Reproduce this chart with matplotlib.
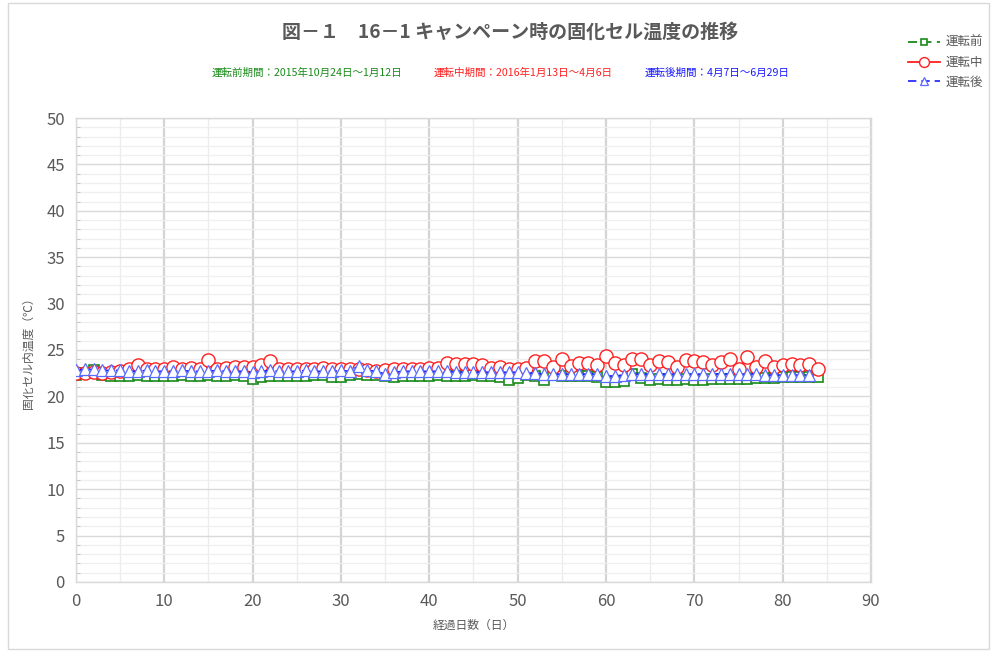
import numpy as np
import matplotlib
matplotlib.use("Agg")
import matplotlib.pyplot as plt
from matplotlib.ticker import MultipleLocator
from matplotlib.patches import Rectangle

plt.rcParams['font.family'] = ['Noto Sans CJK JP', 'DejaVu Sans']

# 固化セル温度（℃）、経過日数ごと
before_temp = [22.3, 22.5, 22.8, 22.3, 22.2, 22.2, 22.2, 22.3, 22.2, 22.2,
               22.2, 22.2, 22.3, 22.2, 22.2, 22.3, 22.2, 22.2, 22.3, 22.2,
               21.9, 22.1, 22.2, 22.2, 22.2, 22.2, 22.2, 22.3, 22.3, 22.1,
               22.1, 22.3, 22.4, 22.3, 22.3, 22.2, 22.1, 22.2, 22.2, 22.2,
               22.2, 22.3, 22.2, 22.2, 22.2, 22.3, 22.2, 22.2, 22.1, 21.8,
               22.0, 22.3, 22.2, 21.8, 22.3, 22.2, 22.2, 22.2, 22.2, 22.1,
               21.5, 21.5, 21.7, 22.4, 22.0, 21.8, 21.9, 21.8, 21.8, 21.9,
               21.8, 21.8, 21.9, 21.9, 21.9, 21.9, 21.9, 22.0, 22.0, 22.0,
               22.1, 22.1, 22.1, 22.1, 22.1]
during_temp = [22.5, 22.5, 22.6, 22.5, 22.6, 22.7, 22.9, 23.4, 23.0, 23.0,
               22.9, 23.2, 22.9, 23.1, 23.0, 23.9, 23.0, 23.1, 23.2, 23.2,
               23.2, 23.4, 23.85, 22.9, 23.0, 22.9, 23.0, 22.9, 23.1, 22.9,
               23.0, 22.9, 23.0, 22.8, 22.7, 22.8, 22.9, 22.9, 23.0, 23.0,
               23.1, 23.1, 23.6, 23.5, 23.5, 23.5, 23.4, 23.1, 23.2, 23.0,
               23.0, 23.1, 23.8, 23.8, 23.2, 24.0, 23.3, 23.6, 23.6, 23.4,
               24.3, 23.6, 23.4, 24.0, 24.0, 23.4, 23.8, 23.7, 23.2, 23.9,
               23.8, 23.7, 23.4, 23.7, 24.0, 22.9, 24.2, 23.2, 23.8, 23.2,
               23.4, 23.5, 23.4, 23.5, 22.9]
after_temp = [22.8, 22.9, 22.9, 22.8, 22.8, 22.8, 22.7, 22.7, 22.8, 22.7,
              22.7, 22.7, 22.8, 22.7, 22.7, 22.7, 22.8, 22.7, 22.7, 22.7,
              22.6, 22.7, 22.8, 22.7, 22.7, 22.7, 22.8, 22.7, 22.7, 22.7,
              22.8, 22.7, 23.3, 22.8, 22.7, 22.4, 22.6, 22.7, 22.7, 22.7,
              22.7, 22.7, 22.7, 22.6, 22.6, 22.6, 22.6, 22.6, 22.6, 22.6,
              22.6, 22.5, 22.5, 22.4, 22.4, 22.4, 22.4, 22.4, 22.4, 22.4,
              22.2, 22.2, 22.3, 22.4, 22.4, 22.4, 22.4, 22.4, 22.4, 22.4,
              22.4, 22.4, 22.4, 22.4, 22.4, 22.4, 22.4, 22.4, 22.3, 22.3,
              22.3, 22.3, 22.3, 22.3]

before_days = np.arange(len(before_temp))
during_days = np.arange(len(during_temp))
after_days = np.arange(len(after_temp))

periods = ['運転前期間：2015年10月24日～1月12日',
           '運転中期間：2016年1月13日～4月6日',
           '運転後期間：4月7日～6月29日']
series_names = ['運転前', '運転中', '運転後']
gray = '#595959'

fig = plt.figure(figsize=(9.96, 6.52), dpi=100)
ax = fig.add_axes([0.0763, 0.1074, 0.7982, 0.7116])

ax.plot(before_days, before_temp, color='#1a8a1a', ls=(0, (5, 3)), lw=1.3,
        marker='s', ms=6.5, mfc='white', mec='#1a8a1a', mew=1.2,
        label=series_names[0], zorder=3)
ax.plot(during_days, during_temp, color='#ff2020', ls='-', lw=1.3,
        marker='o', ms=9.5, mfc='white', mec='#ff2020', mew=1.0,
        label=series_names[1], zorder=4)
ax.plot(after_days, after_temp, color='#1a1aff', ls=(0, (5, 3)), lw=1.2,
        marker='^', ms=8, mfc='white', mec='#5a6cff', mew=0.9,
        label=series_names[2], zorder=5)

ax.set_xlim(0, 90)
ax.set_ylim(0, 50)
ax.xaxis.set_major_locator(MultipleLocator(10))
ax.xaxis.set_minor_locator(MultipleLocator(5))
ax.yaxis.set_major_locator(MultipleLocator(5))
ax.yaxis.set_minor_locator(MultipleLocator(1))

ax.grid(which='major', axis='x', color='#d4d4d4', lw=1.6)
ax.grid(which='minor', axis='x', color='#ececec', lw=1.0)
ax.grid(which='major', axis='y', color='#d9d9d9', lw=1.0)
ax.grid(which='minor', axis='y', color='#efefef', lw=0.9)
ax.set_axisbelow(True)

for side in ['left', 'bottom', 'top', 'right']:
    ax.spines[side].set_color('#d9d9d9')
    ax.spines[side].set_linewidth(1.0)

ax.tick_params(axis='both', which='major', length=0, labelsize=12,
               labelcolor=gray, pad=8)
ax.tick_params(axis='x', which='minor', length=0)
ax.tick_params(axis='y', which='minor', direction='in', length=3,
               color='#bfbfbf', left=True)

ax.set_xlabel('経過日数（日）', fontsize=8.5, color=gray, labelpad=6)
ax.set_ylabel('固化セル内温度（℃）', fontsize=8.5, color=gray, labelpad=8)

fig.text(0.512, 0.951, '図－１　16－1 キャンペーン時の固化セル温度の推移',
         ha='center', va='center', fontsize=13.7, fontweight='bold', color=gray)

period_colors = ['#1a8a1a', '#ff2020', '#1a1aff']
period_x = [0.308, 0.525, 0.72]
for txt, c, x in zip(periods, period_colors, period_x):
    fig.text(x, 0.888, txt, ha='center', va='center', fontsize=7.6, color=c)

leg = fig.legend(loc='upper right', bbox_to_anchor=(0.998, 0.962),
                 frameon=False, fontsize=9, handlelength=2.6,
                 handletextpad=0.4, labelspacing=0.55, markerscale=0.75)
for t in leg.get_texts():
    t.set_color(gray)

fig.patches.append(Rectangle((0.008, 0.005), 0.985, 0.99,
                             transform=fig.transFigure, fill=False,
                             edgecolor='#d9d9d9', lw=1.0))

fig.savefig('out.png', dpi=100)
